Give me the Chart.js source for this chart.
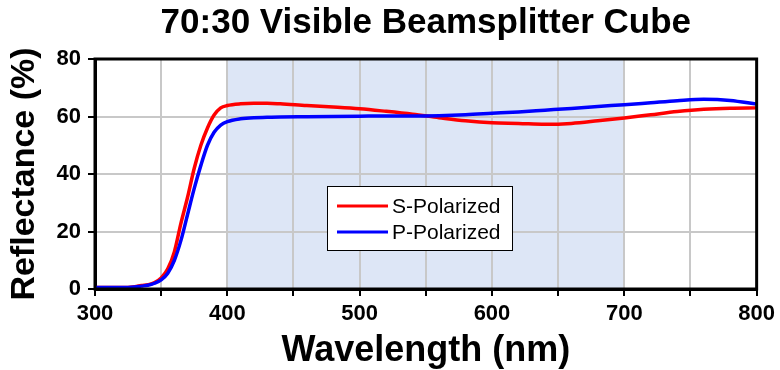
<!DOCTYPE html>
<html>
<head>
<meta charset="utf-8">
<script src="https://cdn.jsdelivr.net/npm/chart.js@4.4.1/dist/chart.umd.min.js"></script>
<style>
  html, body { margin: 0; padding: 0; background: #fff; }
  #wrap { width: 780px; height: 370px; }
</style>
</head>
<body>
<div id="wrap"><canvas id="chartCube" width="780" height="370"></canvas></div>
<script>
// Wavelength (nm) sample points
const panjangGelombang = [300, 310, 320, 330, 335, 340, 345, 350, 355, 360, 365, 370, 375, 380, 385, 390, 395, 400,
  410, 420, 430, 440, 460, 480, 500, 520, 540, 560, 580, 600, 620, 640, 660, 680, 700, 720, 740, 760, 780, 800];

// Reflectance (%) per polarisasi
const sPolarized = [0.5, 0.5, 0.5, 0.8, 1.2, 1.5, 2.2, 3.8, 7, 13, 23, 32, 42, 50, 56, 60.5, 63, 63.8,
  64.4, 64.6, 64.6, 64.4, 63.8, 63.3, 62.7, 61.8, 60.8, 59.6, 58.5, 57.8, 57.6, 57.3, 57.6, 58.5, 59.5, 60.6, 61.7, 62.5, 62.9, 63.0];
const pPolarized = [0.5, 0.5, 0.5, 0.7, 1.0, 1.3, 2.0, 3.2, 5.5, 10, 17, 26, 35, 43, 50, 54.5, 57, 58.2,
  59.2, 59.6, 59.7, 59.8, 59.9, 60.0, 60.1, 60.2, 60.2, 60.3, 60.6, 61.1, 61.6, 62.2, 62.8, 63.5, 64.1, 64.8, 65.5, 66.0, 65.6, 64.3];

const labelSeri = ["S-Polarized", "P-Polarized"];
const warnaSeri = ["#ff0000", "#0000ff"];

// Area yang diarsir (rentang visible)
const rentangArsir = [400, 700];

const fontUtama = "'Liberation Sans', Arial, sans-serif";

// Plugin: arsir area visible + bingkai atas/kanan + legend di dalam plot
const pluginCube = {
  id: "pluginCube",
  beforeDraw(chart) {
    const { ctx, chartArea, scales } = chart;
    const x1 = scales.x.getPixelForValue(rentangArsir[0]);
    const x2 = scales.x.getPixelForValue(rentangArsir[1]);
    ctx.save();
    ctx.fillStyle = "#dde6f6";
    ctx.fillRect(x1, chartArea.top, x2 - x1, chartArea.bottom - chartArea.top);
    ctx.restore();
  },
  afterDraw(chart) {
    const { ctx, chartArea } = chart;
    ctx.save();
    ctx.strokeStyle = "#000";
    ctx.lineWidth = 3;
    ctx.strokeRect(chartArea.left, chartArea.top, chartArea.right - chartArea.left, chartArea.bottom - chartArea.top);

    // legend box
    const bx = 327, by = 186, bw = 185, bh = 64;
    ctx.fillStyle = "#fff";
    ctx.fillRect(bx, by, bw, bh);
    ctx.lineWidth = 1;
    ctx.strokeRect(bx + 0.5, by + 0.5, bw, bh);
    ctx.font = "21px " + fontUtama;
    ctx.textBaseline = "middle";
    labelSeri.forEach((lbl, i) => {
      const y = by + 20 + i * 26;
      ctx.strokeStyle = warnaSeri[i];
      ctx.lineWidth = 3;
      ctx.beginPath();
      ctx.moveTo(bx + 10, y);
      ctx.lineTo(bx + 61, y);
      ctx.stroke();
      ctx.fillStyle = "#000";
      ctx.fillText(lbl, bx + 65, y + 1);
    });
    ctx.restore();
  }
};

const dataSets = [sPolarized, pPolarized].map((seri, i) => ({
  label: labelSeri[i],
  data: panjangGelombang.map((wl, j) => ({ x: wl, y: seri[j] })),
  borderColor: warnaSeri[i],
  backgroundColor: warnaSeri[i],
  borderWidth: 3.5,
  pointRadius: 0,
  cubicInterpolationMode: "monotone",
  order: i === 0 ? 1 : 0
}));

new Chart(document.getElementById("chartCube"), {
  type: "line",
  data: { datasets: dataSets },
  options: {
    responsive: false,
    animation: false,
    devicePixelRatio: 1,
    layout: { padding: { left: 0, right: 23, top: 0, bottom: 0 } },
    plugins: {
      legend: { display: false },
      tooltip: { enabled: false },
      title: {
        display: true,
        fullSize: false,
        text: "70:30 Visible Beamsplitter Cube",
        color: "#000",
        font: { family: fontUtama, size: 35, weight: "bold", lineHeight: 1.2 },
        padding: { top: 2, bottom: 15 }
      }
    },
    scales: {
      x: {
        type: "linear",
        min: 300,
        max: 800,
        afterFit: s => { s.height = 81; },
        ticks: {
          stepSize: 50,
          color: "#000",
          font: { family: fontUtama, size: 22, weight: "bold" },
          padding: 5,
          maxRotation: 0,
          callback: v => (v % 100 === 0 ? v : "")
        },
        grid: { color: "#c8c8c8", lineWidth: 2, tickColor: "#000", tickLength: 7 },
        border: { color: "#000", width: 3 },
        title: {
          display: true,
          text: "Wavelength (nm)",
          color: "#000",
          font: { family: fontUtama, size: 36, weight: "bold", lineHeight: 1 },
          padding: { top: 0, bottom: 1 }
        }
      },
      y: {
        min: 0,
        max: 80,
        afterFit: s => { s.width = 95; },
        ticks: {
          stepSize: 10,
          color: "#000",
          font: { family: fontUtama, size: 22, weight: "bold" },
          padding: 7,
          callback: v => (v % 20 === 0 ? v : "")
        },
        grid: { color: "#c8c8c8", lineWidth: 2, tickColor: "#000", tickLength: 7 },
        border: { color: "#000", width: 3 },
        title: {
          display: true,
          text: "Reflectance (%)",
          color: "#000",
          font: { family: fontUtama, size: 34, weight: "bold", lineHeight: 1 },
          padding: { top: 8, bottom: 0 }
        }
      }
    }
  },
  plugins: [pluginCube]
});
</script>
</body>
</html>
